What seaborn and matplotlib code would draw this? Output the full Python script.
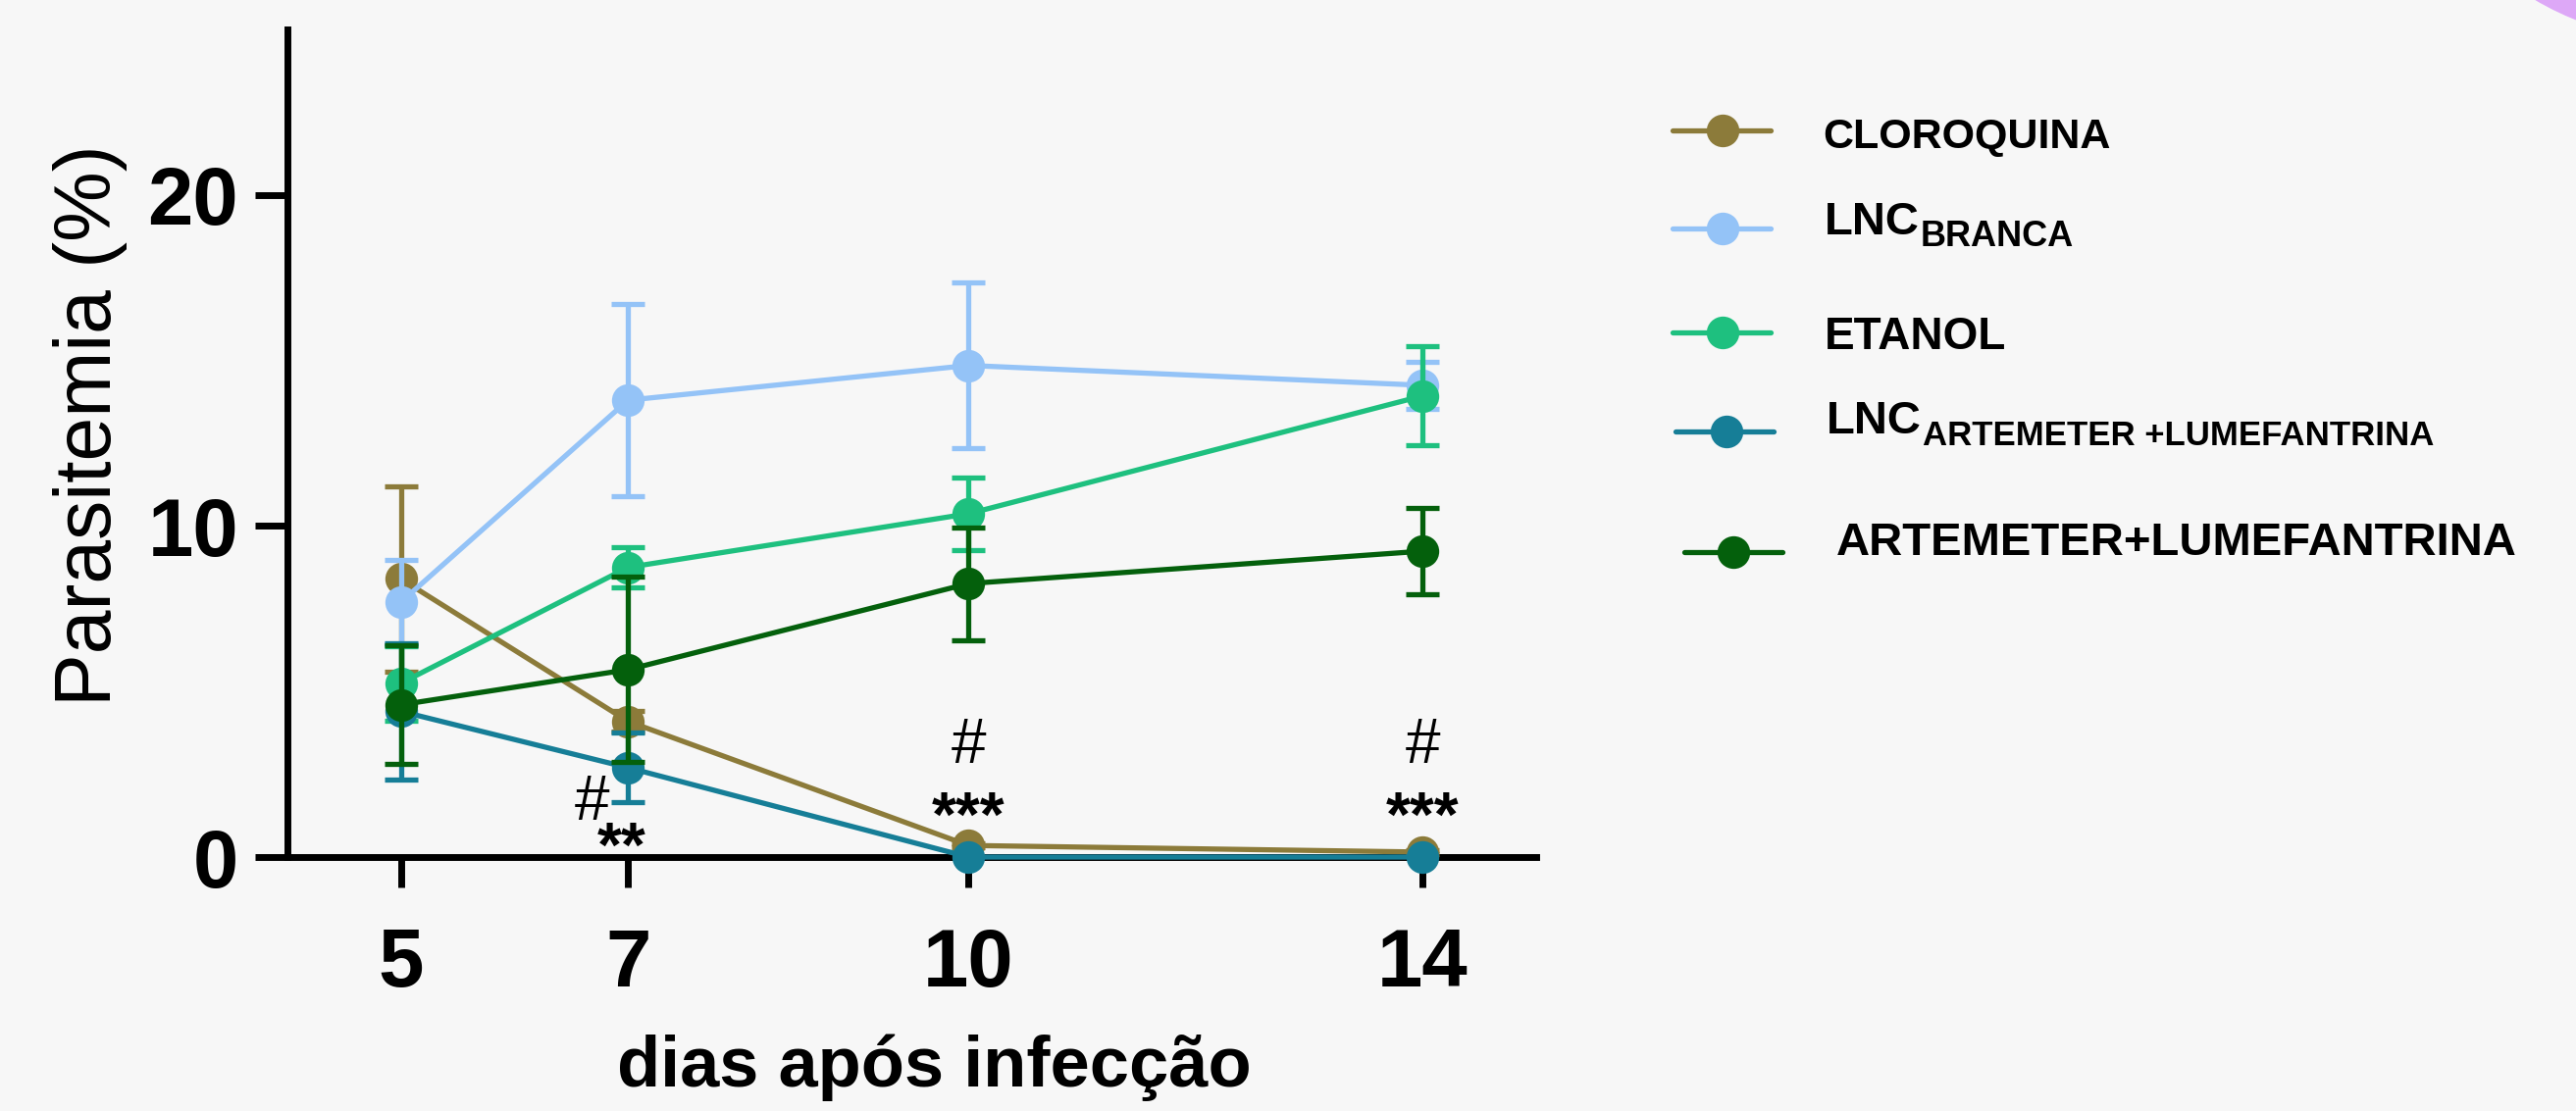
import numpy as np
import pandas as pd
import seaborn as sns
import matplotlib
matplotlib.use("Agg")
import matplotlib.pyplot as plt
from matplotlib.lines import Line2D
from matplotlib.patches import Ellipse

# ---------------- data ----------------
days = [5, 7, 10, 14]
groups = ["CLOROQUINA", "LNC_BRANCA", "ETANOL", "LNC_ART_LUM", "ART_LUM"]

cloroquina_mean = [8.4, 4.1, 0.35, 0.15]
cloroquina_sem = [2.8, 0.3, 0.05, 0.05]
lnc_branca_mean = [7.7, 13.8, 14.85, 14.25]
lnc_branca_sem = [1.27, 2.9, 2.5, 0.7]
etanol_mean = [5.25, 8.75, 10.37, 13.93]
etanol_sem = [1.13, 0.6, 1.1, 1.5]
lnc_art_lum_mean = [4.4, 2.7, 0.0, 0.0]
lnc_art_lum_sem = [2.07, 1.05, 0.0, 0.0]
art_lum_mean = [4.6, 5.66, 8.26, 9.24]
art_lum_sem = [1.8, 2.8, 1.7, 1.3]

annot_x = [6.68, 6.94, 10, 10, 14, 14]
annot_y = [1.12, -0.3, 2.85, 0.62, 2.85, 0.62]
annot_text = ["#", "**", "#", "***", "#", "***"]

yticks = [0, 10, 20]
xlabel = "dias após infecção"
ylabel = "Parasitemia (%)"

colors = {
    "CLOROQUINA": "#8C7B3A",
    "LNC_BRANCA": "#94C3F7",
    "ETANOL": "#1EC07F",
    "LNC_ART_LUM": "#167E97",
    "ART_LUM": "#04600C",
}
means = [cloroquina_mean, lnc_branca_mean, etanol_mean, lnc_art_lum_mean, art_lum_mean]
sems = [cloroquina_sem, lnc_branca_sem, etanol_sem, lnc_art_lum_sem, art_lum_sem]

rows = []
for g, m in zip(groups, means):
    for d, v in zip(days, m):
        rows.append({"dia": d, "parasitemia": v, "grupo": g})
df = pd.DataFrame(rows)

# ---------------- style ----------------
BG = "#F7F7F7"
sns.set_theme(style="ticks")
plt.rcParams["font.family"] = ["Liberation Sans", "DejaVu Sans"]
plt.rcParams["text.color"] = "black"
plt.rcParams["axes.labelcolor"] = "black"
plt.rcParams["xtick.color"] = "black"
plt.rcParams["ytick.color"] = "black"
plt.rcParams["axes.edgecolor"] = "black"

W, H = 2626, 1133
fig = plt.figure(figsize=(W / 100, H / 100), dpi=100, facecolor=BG)
ax = fig.add_axes([293 / W, 1 - 874 / H, (1566 - 293) / W, (874 - 30) / H])
ax.set_facecolor(BG)

LW = 3.8
MS = 24
sns.lineplot(data=df, x="dia", y="parasitemia", hue="grupo", hue_order=groups,
             palette=colors, marker="o", markersize=MS, markeredgewidth=0,
             linewidth=LW, errorbar=None, legend=False, sort=False, ax=ax)

for i, line in enumerate(ax.lines):
    line.set_zorder(10 + 2 * i)
    line.set_clip_on(False)

for i, (g, m, s) in enumerate(zip(groups, means, sems)):
    s = np.array(s, dtype=float)
    s = np.where(s > 0, s, np.nan)
    eb = ax.errorbar(days, m, yerr=s, fmt="none", ecolor=colors[g],
                     elinewidth=LW, capsize=12, capthick=LW, zorder=9 + 2 * i)
    for art in eb.lines[1] + eb.lines[2]:
        art.set_clip_on(False)
        art.set_zorder(9 + 2 * i)

for x, y, t in zip(annot_x, annot_y, annot_text):
    star = t.startswith("*")
    ax.text(x, y, t, ha="center", va="baseline", fontsize=46,
            fontweight="bold" if star else "normal", color="black", zorder=30)

ax.set_xlim(4, 15)
ax.set_ylim(0, 25)
ax.set_xticks(days)
ax.set_yticks(yticks)
ax.spines[["top", "right"]].set_visible(False)
for sp in ["left", "bottom"]:
    ax.spines[sp].set_linewidth(5)
    ax.spines[sp].set_color("black")
ax.tick_params(axis="y", length=24, width=5, pad=12, labelsize=60, color="black", labelcolor="black")
ax.tick_params(axis="x", length=22, width=5, pad=29, labelsize=60, color="black", labelcolor="black")
for lab in ax.get_xticklabels() + ax.get_yticklabels():
    lab.set_fontweight("bold")

ax.set_xlabel(xlabel, fontsize=52, fontweight="bold")
ax.xaxis.label.set_verticalalignment("center")
ax.xaxis.set_label_coords((952 - 293) / (1566 - 293), (874 - 1089) / (874 - 30))
ax.set_ylabel(ylabel, fontsize=58)
ax.yaxis.label.set_verticalalignment("center")
ax.yaxis.set_label_coords((92 - 293) / (1566 - 293), (874 - 434) / (874 - 30))

# ---------------- legend (manual) ----------------
def fx(px):
    return px / W

def fy(py):
    return 1 - py / H

leg_rows = [
    ("CLOROQUINA", (1756, 133), (1705, 1805), "CLOROQUINA", 31, 1858, 151, None, None, None),
    ("LNC_BRANCA", (1756, 233), (1705, 1805), "LNC", 34, 1860, 239, "BRANCA", 26, 251),
    ("ETANOL", (1756, 339), (1705, 1805), "ETANOL", 33, 1860, 356, None, None, None),
    ("LNC_ART_LUM", (1760, 440), (1708, 1808), "LNC", 34, 1862, 442, "ARTEMETER +LUMEFANTRINA", 25, 454),
    ("ART_LUM", (1767, 563), (1717, 1817), "ARTEMETER+LUMEFANTRINA", 34, 1872, 566, None, None, None),
]
fig.canvas.draw()
renderer = fig.canvas.get_renderer()
for g, (mx, my), (lx0, lx1), txt, sz, tx, tb, sub, ssz, sb in leg_rows:
    fig.add_artist(Line2D([fx(lx0), fx(lx1)], [fy(my), fy(my)], color=colors[g], lw=LW,
                          transform=fig.transFigure))
    fig.add_artist(Line2D([fx(mx)], [fy(my)], marker="o", markersize=MS, markeredgewidth=0,
                          color=colors[g], transform=fig.transFigure))
    t = fig.text(fx(tx), fy(tb), txt, fontsize=sz, fontweight="bold", va="baseline", ha="left",
                 color="black")
    if sub:
        bb = t.get_window_extent(renderer=renderer)
        fig.text(bb.x1 / W + 1 / W, fy(sb), sub, fontsize=ssz, fontweight="bold",
                 va="baseline", ha="left", color="black")

# decorative corner arc (part of the screenshot)
fig.add_artist(Ellipse((2737 / W, 1 + 259 / H), 600 / W, 600 / H, color="#DDA8F7",
                       transform=fig.transFigure, zorder=0))

fig.savefig("out.png", dpi=100, facecolor=BG)
